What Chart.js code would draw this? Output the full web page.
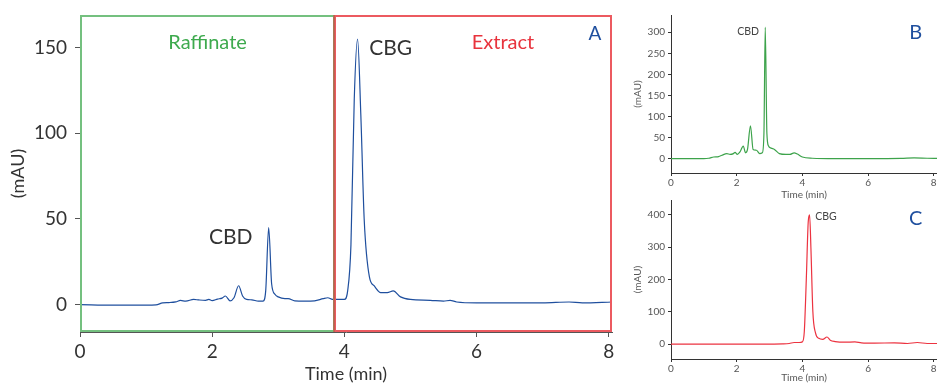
<!DOCTYPE html>
<html>
<head>
<meta charset="utf-8">
<script src="https://cdn.jsdelivr.net/npm/chart.js@4"></script>
<style>
  body { margin: 0; background: #fff; width: 937px; height: 383px; overflow: hidden; position: relative; }
  canvas { position: absolute; }
  #chartA { left: 0; top: 0; }
  #chartB { left: 620px; top: 0; }
  #chartC { left: 620px; top: 190px; }
</style>
</head>
<body>
<canvas id="chartA" width="620" height="383"></canvas>
<canvas id="chartB" width="317" height="200"></canvas>
<canvas id="chartC" width="317" height="193"></canvas>
<script>
const xTicks = [0, 2, 4, 6, 8];
const yTicksA = [0, 50, 100, 150];
const yTicksB = [0, 50, 100, 150, 200, 250, 300];
const yTicksC = [0, 100, 200, 300, 400];

// A: fractions run through the column (blue trace)
const timeA = [
  0, 0.5, 1.0, 1.15, 1.25, 1.35, 1.45, 1.52, 1.6, 1.72,
  1.8, 1.9, 1.95, 2.0, 2.08, 2.15, 2.2, 2.27, 2.33, 2.4,
  2.46, 2.52, 2.6, 2.7, 2.77, 2.81, 2.855, 2.9, 2.95, 3.0,
  3.1, 3.15, 3.25, 3.4, 3.55, 3.68, 3.75, 3.82, 3.9, 4.0,
  4.05, 4.1, 4.15, 4.2, 4.25, 4.3, 4.38, 4.45, 4.55, 4.65,
  4.74, 4.85, 5.0, 5.3, 5.5, 5.6, 5.7, 6.0, 6.5, 7.0,
  7.4, 7.6, 8.05
];
const signalA = [
  0, -0.3, -0.3, -0.2, 1, 1.2, 1.6, 2.4, 2, 3,
  2.7, 2.5, 3, 2.3, 3.2, 3.8, 5, 2.2, 4, 11,
  5, 3, 2.8, 2, 2, 8, 45, 12, 6, 4.5,
  3.5, 3.5, 2.2, 2, 2.2, 3.5, 4, 3, 3, 3,
  8, 35, 120, 155, 110, 50, 16, 11, 7, 7,
  8, 4.5, 3, 2.5, 2, 2.5, 1.5, 1, 1, 1,
  1.5, 1, 1.5
];

// B: raffinate (green trace)
const timeB = [
  0, 1.0, 1.15, 1.3, 1.45, 1.55, 1.7, 1.8, 1.9, 1.95,
  2.02, 2.1, 2.2, 2.27, 2.33, 2.42, 2.5, 2.6, 2.7, 2.78,
  2.83, 2.87, 2.92, 2.97, 3.05, 3.15, 3.3, 3.5, 3.62, 3.75,
  3.85, 4.0, 4.3, 5.0, 6.0, 7.0, 7.4, 7.8, 8.1
];
const signalB = [
  0, 0, 1, 4, 5, 8, 12, 10, 12, 15,
  10, 16, 30, 14, 22, 78, 22, 20, 12, 14,
  60, 312, 60, 30, 25, 22, 12, 10, 10, 14,
  11, 4, 1, 0, 0, 0.5, 2, 1, 0.5
];

// C: extract (red trace)
const timeC = [
  0, 2.0, 3.4, 3.6, 3.75, 3.9, 4.0, 4.06, 4.12, 4.18,
  4.22, 4.26, 4.32, 4.4, 4.5, 4.62, 4.75, 4.85, 5.0, 5.3,
  5.6, 5.8, 6.2, 6.8, 7.2, 7.5, 7.8, 8.1
];
const signalC = [
  0, 0, 1, 2, 5, 5, 7, 40, 200, 380,
  400, 300, 100, 35, 18, 15, 22, 12, 8, 6,
  7, 4, 3, 4, 2, 5, 2, 2
];

const splitTime = 3.84;

function points(t, s) {
  return t.map((x, i) => ({ x: x, y: s[i] }));
}

function fixedSize(size) {
  return (scale) => {
    if (scale.isHorizontal()) scale.height = size;
    else scale.width = size;
    scale.paddingLeft = 0;
    scale.paddingRight = 0;
    scale.paddingTop = 0;
    scale.paddingBottom = 0;
  };
}

function useTicks(values) {
  return (scale) => {
    scale.ticks = values.map((v) => ({ value: v }));
  };
}

const notesPlugin = {
  id: "notes",
  afterDatasetsDraw(chart, args, opts) {
    const { ctx, scales } = chart;
    ctx.save();
    ctx.textAlign = "center";
    ctx.textBaseline = "middle";
    (opts.items || []).forEach((n) => {
      ctx.font = n.font;
      ctx.fillStyle = n.color;
      ctx.fillText(n.text, scales.x.getPixelForValue(n.x), scales.y.getPixelForValue(n.y));
    });
    ctx.restore();
  },
};

const regionPlugin = {
  id: "regions",
  afterDatasetsDraw(chart) {
    const { ctx, chartArea: a, scales } = chart;
    const xs = Math.round(scales.x.getPixelForValue(splitTime));
    ctx.save();
    ctx.lineWidth = 2;
    ctx.strokeStyle = "#74c07f";
    ctx.strokeRect(a.left + 1, a.top + 1, xs - a.left - 1, a.bottom - a.top - 2);
    ctx.strokeStyle = "#ec5a60";
    ctx.strokeRect(xs + 1, a.top + 1, a.right - xs - 2, a.bottom - a.top - 2);
    ctx.lineWidth = 1.5;
    ctx.strokeStyle = "#b8604a";
    ctx.beginPath();
    ctx.moveTo(xs, a.top);
    ctx.lineTo(xs, a.bottom);
    ctx.stroke();
    ctx.restore();
  },
};

function createChromatogram(id, s) {
  const config = {
    type: "line",
    data: {
      datasets: [
        {
          data: points(s.time, s.signal),
          borderColor: s.color,
          borderWidth: s.lineWidth,
          pointRadius: 0,
          cubicInterpolationMode: "monotone",
          fill: false,
        },
      ],
    },
    options: {
      responsive: false,
      animation: false,
      devicePixelRatio: 1,
      layout: { padding: s.padding },
      plugins: {
        legend: false,
        tooltip: { enabled: false },
        notes: { items: s.notes },
      },
      scales: {
        x: {
          type: "linear",
          min: 0,
          max: s.xMax,
          afterBuildTicks: useTicks(xTicks),
          afterFit: fixedSize(s.xHeight),
          grid: { display: true, drawOnChartArea: false, drawTicks: true, tickLength: s.tickLength, color: s.axisColor },
          border: { display: true, color: s.axisColor },
          ticks: { color: s.textColor, padding: s.xPad, font: { family: "Lato", size: s.tickSize }, maxRotation: 0 },
          title: {
            display: true,
            text: "Time (min)",
            color: s.textColor,
            padding: { top: 0, bottom: 0 },
            font: { family: "Lato", size: s.titleSize, lineHeight: 1 },
          },
        },
        y: {
          type: "linear",
          min: s.yMin,
          max: s.yMax,
          afterBuildTicks: useTicks(s.yTicks),
          afterFit: fixedSize(s.yWidth),
          grid: { display: true, drawOnChartArea: false, drawTicks: true, tickLength: s.tickLength, color: s.axisColor },
          border: { display: true, color: s.axisColor },
          ticks: { color: s.textColor, padding: s.yPad, font: { family: "Lato", size: s.tickSize } },
          title: {
            display: true,
            text: "(mAU)",
            color: s.textColor,
            padding: { top: s.yTitleOffset, bottom: 0 },
            font: { family: "Lato", size: s.titleSize, lineHeight: 1 },
          },
        },
      },
    },
    plugins: s.regions ? [regionPlugin, notesPlugin] : [notesPlugin],
  };
  new Chart(document.getElementById(id), config);
}

createChromatogram("chartA", {
  time: timeA, signal: signalA, color: "#1f4f9e", lineWidth: 1.2,
  xMax: 8.05, yMin: -16, yMax: 169, yTicks: yTicksA,
  padding: { top: 15, right: 8, left: 0, bottom: 0 },
  xHeight: 51, yWidth: 80, tickLength: 5, xPad: 3, yPad: 8,
  tickSize: 19, titleSize: 18, yTitleOffset: 9,
  axisColor: "#555", textColor: "#333", regions: true,
  notes: [
    { text: "Raffinate", x: 1.93, y: 152.9, color: "#3eaa4e", font: "20px Lato" },
    { text: "Extract", x: 6.4, y: 152.9, color: "#e8333d", font: "20px Lato" },
    { text: "A", x: 7.79, y: 158, color: "#1f4f9e", font: "19px Lato" },
    { text: "CBG", x: 4.7, y: 149.4, color: "#333", font: "21px Lato" },
    { text: "CBD", x: 2.28, y: 39.1, color: "#333", font: "21px Lato" },
  ],
});

createChromatogram("chartB", {
  time: timeB, signal: signalB, color: "#3da34b", lineWidth: 1.2,
  xMax: 8.1, yMin: -34, yMax: 341, yTicks: yTicksB,
  padding: { top: 15, right: 0, left: 0, bottom: 0 },
  xHeight: 27, yWidth: 51, tickLength: 3, xPad: 1, yPad: 3,
  tickSize: 10, titleSize: 10, yTitleOffset: 13,
  axisColor: "#333", textColor: "#555", regions: false,
  notes: [
    { text: "CBD", x: 2.35, y: 301.6, color: "#444", font: "10.5px Lato" },
    { text: "B", x: 7.45, y: 298.6, color: "#1f4f9e", font: "20px Lato" },
  ],
});

createChromatogram("chartC", {
  time: timeC, signal: signalC, color: "#ec3340", lineWidth: 1.2,
  xMax: 8.1, yMin: -46, yMax: 446, yTicks: yTicksC,
  padding: { top: 10, right: 0, left: 0, bottom: 0 },
  xHeight: 24, yWidth: 51, tickLength: 3, xPad: 1, yPad: 3,
  tickSize: 10, titleSize: 10, yTitleOffset: 13,
  axisColor: "#333", textColor: "#555", regions: false,
  notes: [
    { text: "CBG", x: 4.72, y: 394, color: "#444", font: "10.5px Lato" },
    { text: "C", x: 7.45, y: 388, color: "#1f4f9e", font: "20px Lato" },
  ],
});
</script>
</body>
</html>
